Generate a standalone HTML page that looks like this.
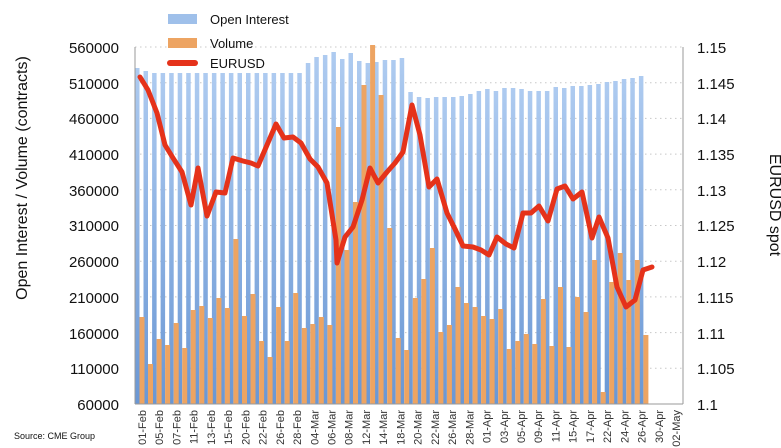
<!DOCTYPE html>
<html><head><meta charset="utf-8"><style>
html,body{margin:0;padding:0;background:#fff;}
svg{display:block;font-family:"Liberation Sans",sans-serif;}
</style></head><body>
<svg width="781" height="448" viewBox="0 0 781 448" xmlns="http://www.w3.org/2000/svg">
<defs>
<linearGradient id="bg" x1="0" y1="0" x2="0" y2="1">
<stop offset="0" stop-color="#aecbf0"/><stop offset="1" stop-color="#6a97d4"/>
</linearGradient>
</defs>
<rect width="781" height="448" fill="#fff"/>
<g stroke="#c8c8c8" stroke-dasharray="1.5,3.5" stroke-width="1">
<line x1="135" x2="683" y1="47" y2="47"/><line x1="135" x2="683" y1="82.7" y2="82.7"/>
<line x1="135" x2="683" y1="118.4" y2="118.4"/><line x1="135" x2="683" y1="154.1" y2="154.1"/>
<line x1="135" x2="683" y1="189.8" y2="189.8"/><line x1="135" x2="683" y1="225.5" y2="225.5"/>
<line x1="135" x2="683" y1="261.2" y2="261.2"/><line x1="135" x2="683" y1="296.9" y2="296.9"/>
<line x1="135" x2="683" y1="332.6" y2="332.6"/><line x1="135" x2="683" y1="368.3" y2="368.3"/>
</g>
<g transform="translate(135,0)" fill="url(#bg)">
<rect x="0" y="68" width="4.5" height="336"/><rect x="8.5" y="71" width="4.5" height="333"/>
<rect x="17.1" y="73" width="4.5" height="331"/><rect x="25.6" y="73" width="4.5" height="331"/>
<rect x="34.2" y="73" width="4.5" height="331"/><rect x="42.7" y="73" width="4.5" height="331"/>
<rect x="51.2" y="73" width="4.5" height="331"/><rect x="59.8" y="73" width="4.5" height="331"/>
<rect x="68.3" y="73" width="4.5" height="331"/><rect x="76.9" y="73" width="4.5" height="331"/>
<rect x="85.4" y="73" width="4.5" height="331"/><rect x="93.9" y="73" width="4.5" height="331"/>
<rect x="102.5" y="73" width="4.5" height="331"/><rect x="111" y="73" width="4.5" height="331"/>
<rect x="119.6" y="73" width="4.5" height="331"/><rect x="128.1" y="73" width="4.5" height="331"/>
<rect x="136.6" y="73" width="4.5" height="331"/><rect x="145.2" y="73" width="4.5" height="331"/>
<rect x="153.7" y="73" width="4.5" height="331"/><rect x="162.3" y="73" width="4.5" height="331"/>
<rect x="170.8" y="63" width="4.5" height="341"/><rect x="179.3" y="57" width="4.5" height="347"/>
<rect x="187.9" y="55" width="4.5" height="349"/><rect x="196.4" y="52" width="4.5" height="352"/>
<rect x="205" y="59" width="4.5" height="345"/><rect x="213.5" y="53" width="4.5" height="351"/>
<rect x="222" y="61" width="4.5" height="343"/><rect x="230.6" y="63" width="4.5" height="341"/>
<rect x="239.1" y="62" width="4.5" height="342"/><rect x="247.7" y="60" width="4.5" height="344"/>
<rect x="256.2" y="60" width="4.5" height="344"/><rect x="264.7" y="58" width="4.5" height="346"/>
<rect x="273.3" y="92" width="4.5" height="312"/><rect x="281.8" y="97" width="4.5" height="307"/>
<rect x="290.4" y="98" width="4.5" height="306"/><rect x="298.9" y="97" width="4.5" height="307"/>
<rect x="307.4" y="97" width="4.5" height="307"/><rect x="316" y="97" width="4.5" height="307"/>
<rect x="324.5" y="96" width="4.5" height="308"/><rect x="333.1" y="94" width="4.5" height="310"/>
<rect x="341.6" y="91" width="4.5" height="313"/><rect x="350.1" y="89" width="4.5" height="315"/>
<rect x="358.7" y="91" width="4.5" height="313"/><rect x="367.2" y="88" width="4.5" height="316"/>
<rect x="375.8" y="88" width="4.5" height="316"/><rect x="384.3" y="89" width="4.5" height="315"/>
<rect x="392.8" y="91" width="4.5" height="313"/><rect x="401.4" y="91" width="4.5" height="313"/>
<rect x="409.9" y="91" width="4.5" height="313"/><rect x="418.5" y="87" width="4.5" height="317"/>
<rect x="427" y="88" width="4.5" height="316"/><rect x="435.5" y="86" width="4.5" height="318"/>
<rect x="444.1" y="86" width="4.5" height="318"/><rect x="452.6" y="85" width="4.5" height="319"/>
<rect x="461.2" y="84" width="4.5" height="320"/><rect x="469.7" y="82" width="4.5" height="322"/>
<rect x="478.2" y="81" width="4.5" height="323"/><rect x="486.8" y="79" width="4.5" height="325"/>
<rect x="495.3" y="78" width="4.5" height="326"/><rect x="503.9" y="76" width="4.5" height="328"/>
</g>
<g transform="translate(139.5,0)" fill="#eda462">
<rect x="0" y="317" width="5" height="87"/><rect x="8.5" y="364" width="5" height="40"/>
<rect x="17.1" y="339" width="5" height="65"/><rect x="25.6" y="345" width="5" height="59"/>
<rect x="34.2" y="323" width="5" height="81"/><rect x="42.7" y="348" width="5" height="56"/>
<rect x="51.2" y="310" width="5" height="94"/><rect x="59.8" y="306" width="5" height="98"/>
<rect x="68.3" y="318" width="5" height="86"/><rect x="76.9" y="298" width="5" height="106"/>
<rect x="85.4" y="308" width="5" height="96"/><rect x="93.9" y="239" width="5" height="165"/>
<rect x="102.5" y="316" width="5" height="88"/><rect x="111" y="294" width="5" height="110"/>
<rect x="119.6" y="341" width="5" height="63"/><rect x="128.1" y="357" width="5" height="47"/>
<rect x="136.6" y="307" width="5" height="97"/><rect x="145.2" y="341" width="5" height="63"/>
<rect x="153.7" y="293" width="5" height="111"/><rect x="162.3" y="328" width="5" height="76"/>
<rect x="170.8" y="324" width="5" height="80"/><rect x="179.3" y="317" width="5" height="87"/>
<rect x="187.9" y="325" width="5" height="79"/><rect x="196.4" y="127" width="5" height="277"/>
<rect x="205" y="250" width="5" height="154"/><rect x="213.5" y="202" width="5" height="202"/>
<rect x="222" y="85" width="5" height="319"/><rect x="230.6" y="45" width="5" height="359"/>
<rect x="239.1" y="95" width="5" height="309"/><rect x="247.7" y="228" width="5" height="176"/>
<rect x="256.2" y="338" width="5" height="66"/><rect x="264.7" y="350" width="5" height="54"/>
<rect x="273.3" y="298" width="5" height="106"/><rect x="281.8" y="279" width="5" height="125"/>
<rect x="290.4" y="248" width="5" height="156"/><rect x="298.9" y="332" width="5" height="72"/>
<rect x="307.4" y="325" width="5" height="79"/><rect x="316" y="287" width="5" height="117"/>
<rect x="324.5" y="303" width="5" height="101"/><rect x="333.1" y="307" width="5" height="97"/>
<rect x="341.6" y="316" width="5" height="88"/><rect x="350.1" y="319" width="5" height="85"/>
<rect x="358.7" y="309" width="5" height="95"/><rect x="367.2" y="349" width="5" height="55"/>
<rect x="375.8" y="341" width="5" height="63"/><rect x="384.3" y="334" width="5" height="70"/>
<rect x="392.8" y="344" width="5" height="60"/><rect x="401.4" y="299" width="5" height="105"/>
<rect x="409.9" y="346" width="5" height="58"/><rect x="418.5" y="287" width="5" height="117"/>
<rect x="427" y="347" width="5" height="57"/><rect x="435.5" y="297" width="5" height="107"/>
<rect x="444.1" y="312" width="5" height="92"/><rect x="452.6" y="260" width="5" height="144"/>
<rect x="461.2" y="392" width="5" height="12"/><rect x="469.7" y="282" width="5" height="122"/>
<rect x="478.2" y="253" width="5" height="151"/><rect x="486.8" y="280" width="5" height="124"/>
<rect x="495.3" y="260" width="5" height="144"/><rect x="503.9" y="335" width="5" height="69"/>
</g>
<g stroke="#999" stroke-width="1">
<line x1="135" y1="47" x2="135" y2="404"/><line x1="683" y1="47" x2="683" y2="404"/>
<line x1="135" y1="404" x2="683" y2="404"/>
</g>
<polyline fill="none" stroke="#e5321a" stroke-width="5" stroke-linejoin="round" stroke-linecap="round" points="140,77 148,90 157,113 165,145 173,158 182,172 191,205 198,168 207,216 216,192 225,193 233,158 243,161 251,163 258,166 267,145 276,124 284,138 293,137 301,143 310,159 318,167 327,183 336,240 337,263 345,237 353,227 362,200 370,168 378,183 387,172 395,163 403,152 412,105 420,135 429,187 437,179 447,213 455,229 463,246 473,247 481,250 489,255 497,237 506,244 514,248 523,213 531,213 539,206 548,221 557,189 565,186 573,199 582,192 592,238 599,217 608,238 617,287 626,307 635,300 643,270 652,267"/>
<g font-size="15" fill="#111" text-anchor="end">
<text x="119" y="53">560000</text><text x="119" y="89">510000</text>
<text x="119" y="124">460000</text><text x="119" y="160">410000</text>
<text x="119" y="196">360000</text><text x="119" y="231">310000</text>
<text x="119" y="267">260000</text><text x="119" y="303">210000</text>
<text x="119" y="339">160000</text><text x="119" y="374">110000</text>
<text x="119" y="410">60000</text>
</g>
<g font-size="15" fill="#111">
<text x="697" y="53">1.15</text><text x="697" y="89">1.145</text>
<text x="697" y="124">1.14</text><text x="697" y="160">1.135</text>
<text x="697" y="196">1.13</text><text x="697" y="231">1.125</text>
<text x="697" y="267">1.12</text><text x="697" y="303">1.115</text>
<text x="697" y="339">1.11</text><text x="697" y="374">1.105</text>
<text x="697" y="410">1.1</text>
</g>
<text transform="translate(27,178) rotate(-90)" font-size="16" fill="#111" text-anchor="middle">Open Interest / Volume (contracts)</text>
<text transform="translate(770,205) rotate(90)" font-size="16" fill="#111" text-anchor="middle">EURUSD spot</text>
<g font-size="11" fill="#333" text-anchor="end">
<text transform="translate(146,410) rotate(-90)">01-Feb</text>
<text transform="translate(163.2,410) rotate(-90)">05-Feb</text>
<text transform="translate(180.4,410) rotate(-90)">07-Feb</text>
<text transform="translate(197.7,410) rotate(-90)">11-Feb</text>
<text transform="translate(214.9,410) rotate(-90)">13-Feb</text>
<text transform="translate(232.1,410) rotate(-90)">15-Feb</text>
<text transform="translate(249.4,410) rotate(-90)">20-Feb</text>
<text transform="translate(266.6,410) rotate(-90)">22-Feb</text>
<text transform="translate(283.8,410) rotate(-90)">26-Feb</text>
<text transform="translate(301,410) rotate(-90)">28-Feb</text>
<text transform="translate(318.3,410) rotate(-90)">04-Mar</text>
<text transform="translate(335.5,410) rotate(-90)">06-Mar</text>
<text transform="translate(352.7,410) rotate(-90)">08-Mar</text>
<text transform="translate(370,410) rotate(-90)">12-Mar</text>
<text transform="translate(387.2,410) rotate(-90)">14-Mar</text>
<text transform="translate(404.4,410) rotate(-90)">18-Mar</text>
<text transform="translate(421.6,410) rotate(-90)">20-Mar</text>
<text transform="translate(438.9,410) rotate(-90)">22-Mar</text>
<text transform="translate(456.1,410) rotate(-90)">26-Mar</text>
<text transform="translate(473.3,410) rotate(-90)">28-Mar</text>
<text transform="translate(490.6,410) rotate(-90)">01-Apr</text>
<text transform="translate(507.8,410) rotate(-90)">03-Apr</text>
<text transform="translate(525,410) rotate(-90)">05-Apr</text>
<text transform="translate(542.2,410) rotate(-90)">09-Apr</text>
<text transform="translate(559.5,410) rotate(-90)">11-Apr</text>
<text transform="translate(576.7,410) rotate(-90)">15-Apr</text>
<text transform="translate(593.9,410) rotate(-90)">17-Apr</text>
<text transform="translate(611.2,410) rotate(-90)">22-Apr</text>
<text transform="translate(628.4,410) rotate(-90)">24-Apr</text>
<text transform="translate(645.6,410) rotate(-90)">26-Apr</text>
<text transform="translate(662.8,410) rotate(-90)">30-Apr</text>
<text transform="translate(680,410) rotate(-90)">02-May</text>
</g>
<rect x="168" y="14" width="29" height="10" fill="#9fc0ea"/>
<rect x="168" y="38" width="29" height="10" fill="#eda462"/>
<line x1="170" y1="63" x2="195" y2="63" stroke="#e5321a" stroke-width="6" stroke-linecap="round"/>
<g font-size="13" fill="#111">
<text x="210" y="24">Open Interest</text>
<text x="210" y="48">Volume</text>
<text x="210" y="68">EURUSD</text>
</g>
<text x="14" y="439" font-size="9" fill="#111">Source: CME Group</text>
</svg>
</body></html>
